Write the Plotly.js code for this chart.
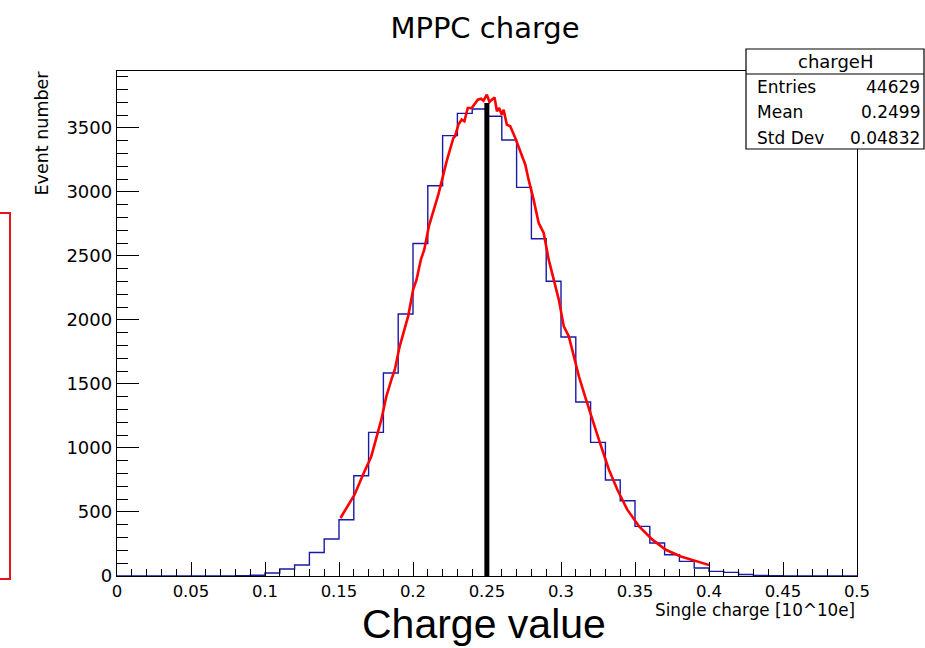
<!DOCTYPE html>
<html><head><meta charset="utf-8">
<script src="https://cdn.plot.ly/plotly-3.0.1.min.js"></script>
<style>html,body{margin:0;padding:0;background:#fff}#chart{width:925px;height:648px}</style>
</head><body><div id="chart"></div>
<script>
// ---- data ----
const binLowEdges = [0.00,0.01,0.02,0.03,0.04,0.05,0.06,0.07,0.08,0.09,
                     0.10,0.11,0.12,0.13,0.14,0.15,0.16,0.17,0.18,0.19,
                     0.20,0.21,0.22,0.23,0.24,0.25,0.26,0.27,0.28,0.29,
                     0.30,0.31,0.32,0.33,0.34,0.35,0.36,0.37,0.38,0.39,
                     0.40,0.41,0.42,0.43,0.44,0.45,0.46,0.47,0.48,0.49];
const binWidth = 0.01;
const counts = [0,0,0,0,0,0,0,0,2,6,
                23,55,86,184,289,440,783,1122,1586,2047,
                2598,3049,3440,3614,3648,3591,3406,3036,2635,2302,
                1867,1359,1044,750,588,388,258,166,114,62,
                36,28,12,5,2,1,0,0,0,0];
const fitX = [0.151,0.1605,0.1662,0.1718,0.1786,0.182,0.1854,0.1877,0.191,0.1967,
              0.2001,0.2024,0.2053,0.2076,0.2107,0.2148,0.2171,0.2205,0.2227,0.2273,
              0.2284,0.2307,0.2329,0.2347,0.237,0.2397,0.2415,0.2438,0.246,0.2476,
              0.2499,0.2517,0.2533,0.2551,0.2567,0.2582,0.26,0.2612,0.2634,0.2657,
              0.2691,0.2725,0.2759,0.2781,0.2815,0.2849,0.2883,0.2917,0.2951,0.2985,
              0.3019,0.3053,0.3087,0.3121,0.3166,0.3211,0.3256,0.3324,0.3381,0.3448,
              0.3528,0.3618,0.3708,0.381,0.3912,0.4003];
const fitY = [453,635,791,934,1221,1403,1534,1612,1794,2028,
              2237,2315,2471,2549,2731,2888,2979,3135,3239,3422,
              3434,3526,3565,3552,3656,3656,3687,3721,3729,3713,
              3760,3703,3721,3739,3630,3656,3604,3643,3526,3513,
              3422,3317,3213,3096,2940,2758,2680,2471,2315,2159,
              1950,1872,1716,1559,1390,1221,1065,830,674,518,
              387,284,205,153,114,85];
const meanValue = 0.2499;
const meanLineTop = 3695;
const xTickVals = [0,0.05,0.1,0.15,0.2,0.25,0.3,0.35,0.4,0.45,0.5];
const xTickText = ["0","0.05","0.1","0.15","0.2","0.25","0.3","0.35","0.4","0.45","0.5"];
const yTickVals = [0,500,1000,1500,2000,2500,3000,3500];
const yTickText = ["0","500","1000","1500","2000","2500","3000","3500"];
const statsTitle = "chargeH";
const statsLabels = ["Entries","Mean","Std Dev"];
const statsValues = ["44629","0.2499","0.04832"];
const chartTitle = "MPPC charge";
const xTitle = "Single charge [10^10e]";
const yTitle = "Event number";
const overlayText = "Charge value";

// ---- layout helpers (pixel -> paper) ----
const W = 925, H = 648, L = 117, R = 68, T = 71, B = 72;
const PW = W - L - R, PH = H - T - B;
const px = v => (v - L) / PW;
const py = v => (H - B - v) / PH;

const stepX = binLowEdges.concat([binLowEdges[binLowEdges.length - 1] + binWidth]);
const stepY = counts.concat([counts[counts.length - 1]]);

const traces = [
  {x: stepX, y: stepY, type: 'scatter', mode: 'lines',
   line: {shape: 'hv', color: '#1a1aa6', width: 1.4}, hoverinfo: 'skip'},
  {x: fitX, y: fitY, type: 'scatter', mode: 'lines',
   line: {color: '#ff0000', width: 2.6}, hoverinfo: 'skip'},
  {x: [meanValue, meanValue], y: [0, meanLineTop], type: 'scatter', mode: 'lines',
   line: {color: '#000000', width: 5}, hoverinfo: 'skip'}
];

const xTickFont = {family: 'DejaVu Sans', size: 16.5, color: '#000'};
const yTickFont = {family: 'DejaVu Sans', size: 18, color: '#000'};
const annFont = s => ({family: 'DejaVu Sans', size: s, color: '#000'});

const annotations = [
  {text: xTitle, xref: 'paper', yref: 'paper', x: px(857), y: py(610),
   xanchor: 'right', yanchor: 'middle', showarrow: false, font: annFont(16.8)},
  {text: yTitle, xref: 'paper', yref: 'paper', x: px(41), y: py(69),
   xanchor: 'center', yanchor: 'top', textangle: -90, showarrow: false, font: annFont(17.5)},
  {text: overlayText, xref: 'paper', yref: 'paper', x: px(484), y: py(624),
   xanchor: 'center', yanchor: 'middle', showarrow: false, borderpad: 0,
   font: {family: 'Liberation Sans', size: 41, color: '#000'}},
  {text: statsTitle, xref: 'paper', yref: 'paper', x: px(835), y: py(62),
   xanchor: 'center', yanchor: 'middle', showarrow: false, font: annFont(18)}
];
const rowY = [87, 112.5, 138];
statsLabels.forEach((lab, i) => {
  annotations.push({text: lab, xref: 'paper', yref: 'paper', x: px(755), y: py(rowY[i]),
    xanchor: 'left', yanchor: 'middle', showarrow: false, font: annFont(17)});
  annotations.push({text: statsValues[i], xref: 'paper', yref: 'paper', x: px(922), y: py(rowY[i]),
    xanchor: 'right', yanchor: 'middle', showarrow: false, font: annFont(17)});
});

const shapes = [
  {type: 'rect', xref: 'paper', yref: 'paper', x0: px(746), x1: px(924), y0: py(149), y1: py(49),
   fillcolor: '#ffffff', line: {color: '#000', width: 1.2}, layer: 'above'},
  {type: 'line', xref: 'paper', yref: 'paper', x0: px(746), x1: px(924), y0: py(74), y1: py(74),
   line: {color: '#000', width: 1.2}, layer: 'above'},
  {type: 'rect', xref: 'paper', yref: 'paper', x0: px(-20), x1: px(10), y0: py(579), y1: py(213),
   fillcolor: 'rgba(0,0,0,0)', line: {color: '#e8141c', width: 2}, layer: 'above'}
];

const layout = {
  width: W, height: H,
  margin: {l: L, r: R, t: T, b: B, pad: 0},
  paper_bgcolor: '#fff', plot_bgcolor: '#fff',
  showlegend: false,
  title: {text: chartTitle, font: {family: 'DejaVu Sans', size: 29, color: '#000'},
          x: 485 / W, xanchor: 'center', y: 1 - 28 / H, yanchor: 'middle'},
  xaxis: {range: [0, 0.5], tickvals: xTickVals, ticktext: xTickText,
          ticks: 'inside', ticklen: 14, tickwidth: 1, tickcolor: '#000',
          minor: {dtick: 0.01, tick0: 0, ticks: 'inside', ticklen: 7, tickwidth: 1, tickcolor: '#000', showgrid: false},
          showline: true, mirror: true, linecolor: '#000', linewidth: 1.2,
          showgrid: false, zeroline: false, tickfont: xTickFont},
  yaxis: {range: [0, 3945], tickvals: yTickVals, ticktext: yTickText,
          ticks: 'inside', ticklen: 22, tickwidth: 1, tickcolor: '#000',
          minor: {dtick: 100, tick0: 0, ticks: 'inside', ticklen: 11, tickwidth: 1, tickcolor: '#000', showgrid: false},
          showline: true, mirror: true, linecolor: '#000', linewidth: 1.2,
          showgrid: false, zeroline: false, tickfont: yTickFont},
  annotations: annotations,
  shapes: shapes
};

Plotly.newPlot('chart', traces, layout, {displayModeBar: false, staticPlot: true});
</script>
</body></html>
